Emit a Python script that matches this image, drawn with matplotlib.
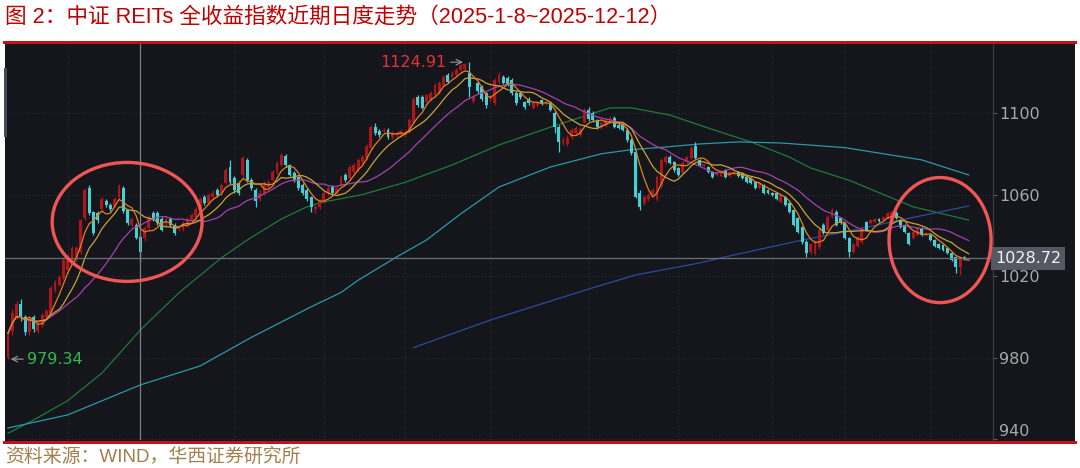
import numpy as np
import pandas as pd
import matplotlib
matplotlib.use("Agg")
import matplotlib.pyplot as plt
from matplotlib.patches import Ellipse, Rectangle

# daily candles, 2025-01-08 .. 2025-12-12
opens = [
    980.5, 993, 1000, 1006.5, 1000, 992.5, 1000, 993, 996, 1000,
    1002, 1013, 1015.5, 1019, 1023, 1027, 1028, 1032, 1048.5, 1063,
    1051.5, 1051, 1053, 1057, 1055, 1054.5, 1059, 1063, 1052.5, 1045,
    1045, 1039, 1038.7, 1043.6, 1051, 1051, 1048, 1045, 1048, 1045,
    1043, 1043, 1045, 1047.5, 1049, 1053, 1059, 1056, 1059, 1062,
    1061, 1065.7, 1073.5, 1068, 1065.7, 1069.6, 1077, 1067, 1062, 1058,
    1061, 1063.6, 1067, 1071, 1074.5, 1079, 1074.5, 1070.6, 1068.6, 1064.7,
    1062, 1059, 1052.7, 1054, 1057, 1061, 1063.7, 1061, 1064.7, 1069.6,
    1068, 1071, 1072, 1076, 1078, 1083, 1093, 1091, 1091, 1091.7,
    1088, 1089, 1089, 1089, 1090.7, 1095.6, 1108, 1108, 1105.4, 1107,
    1108.8, 1110, 1113.7, 1118.6, 1117.6, 1118.6, 1121, 1121.5, 1119.6, 1106,
    1114.7, 1112.7, 1110, 1107, 1105, 1115, 1117.6, 1117, 1116, 1110,
    1110, 1105.4, 1107, 1102.5, 1104, 1106.4, 1104.5, 1105, 1100, 1093,
    1085.3, 1085, 1088, 1090, 1089, 1095.6, 1101.5, 1100, 1096.4, 1093,
    1094, 1095.6, 1097.5, 1094, 1094, 1091.7, 1086.8, 1081, 1061, 1056,
    1058, 1060, 1058, 1064, 1076, 1078.4, 1076, 1073, 1070.6, 1076,
    1078, 1084, 1077, 1074, 1073.5, 1071, 1069.6, 1069, 1072, 1069,
    1070, 1071, 1070.6, 1068.6, 1068, 1066, 1063, 1064.7, 1062, 1061,
    1061, 1056.4, 1059, 1056, 1052.5, 1048.5, 1044, 1036.8, 1032, 1031.4,
    1034.3, 1045, 1042.6, 1049, 1051.5, 1048.5, 1046, 1038.7, 1032, 1035,
    1036.8, 1046.6, 1046, 1046.6, 1048, 1047.5, 1048.5, 1049, 1051, 1047.5,
    1045, 1041, 1038.7, 1040, 1043.6, 1040, 1040, 1037.7, 1036, 1035.3,
    1034, 1031.4, 1029.4, 1024.5, 1029.4, 1028.2]
closes = [
    992, 1002, 1006.5, 1000, 992.5, 999, 994, 997, 1001, 1003,
    1014, 1017, 1019.5, 1028, 1029.5, 1034, 1034, 1047.5, 1062, 1051,
    1041, 1047.5, 1058, 1055, 1053, 1058, 1064, 1052, 1046, 1048,
    1038.7, 1032, 1043.6, 1049, 1048.5, 1046, 1042.6, 1048, 1045, 1041,
    1044, 1046, 1048, 1050, 1053, 1058, 1056, 1060, 1061, 1060,
    1064.7, 1072, 1066, 1062, 1061, 1078, 1067, 1063, 1057, 1061,
    1065.7, 1066, 1071, 1075.5, 1079.4, 1074.5, 1069.6, 1067, 1063, 1061,
    1058, 1054, 1054, 1057, 1061, 1063, 1061, 1063, 1068.6, 1067,
    1073.5, 1074.5, 1077, 1078.4, 1084, 1093, 1090, 1089, 1091.7, 1088,
    1090, 1090, 1091, 1090.7, 1096.6, 1107, 1104, 1102.5, 1108.8, 1110,
    1113.7, 1114.7, 1117.6, 1115, 1119.6, 1121, 1123.5, 1124, 1112.7, 1108,
    1111, 1107, 1104, 1108, 1116, 1118.6, 1114.7, 1113.7, 1110, 1105,
    1108, 1103, 1105, 1105, 1105, 1105, 1105.5, 1101.5, 1093, 1085.8,
    1086.8, 1087.7, 1091.7, 1092.6, 1092, 1101.5, 1097, 1096.4, 1093, 1095,
    1096.6, 1097.5, 1093, 1092.6, 1091.7, 1086.8, 1080.4, 1059, 1054, 1059,
    1060, 1062, 1068.6, 1077, 1078.4, 1075.5, 1072, 1069.6, 1075.5, 1078.4,
    1083, 1078, 1074.5, 1074.8, 1071, 1068.6, 1071, 1071, 1068.6, 1071,
    1071, 1069, 1068, 1066, 1065.7, 1063, 1065.7, 1061, 1061, 1060,
    1058, 1060, 1055, 1051.5, 1045, 1041.7, 1036.8, 1031.4, 1036, 1036.8,
    1042.6, 1041, 1049, 1052.5, 1045, 1046, 1038.7, 1032, 1036, 1039,
    1043.6, 1042.6, 1047.5, 1048, 1047, 1049, 1051, 1051.5, 1048.5, 1044,
    1041.7, 1036, 1041.7, 1043.6, 1040, 1041, 1037.7, 1035, 1034, 1032.8,
    1031.4, 1028, 1024.5, 1029.4, 1028.4, 1028.72]
highs = [
    993, 1004, 1008, 1009, 1001, 1000, 1001, 998, 1002, 1004,
    1015, 1018, 1020.5, 1029, 1031, 1035, 1035, 1048, 1063, 1064.5,
    1052, 1052, 1059, 1058, 1056, 1059, 1065, 1064, 1053, 1049,
    1046, 1040, 1044.5, 1050, 1052, 1052, 1049, 1049, 1049, 1046,
    1045, 1047, 1049, 1051, 1054, 1059, 1060, 1061, 1062, 1063,
    1065.5, 1073, 1077, 1069, 1066.5, 1079, 1078, 1068, 1063, 1062,
    1066.5, 1067, 1072, 1076.5, 1080.5, 1080, 1075, 1071.5, 1069, 1065.5,
    1063, 1059.5, 1055, 1058, 1062, 1064, 1064.5, 1064, 1069.5, 1070.5,
    1074.5, 1075.5, 1078, 1079.5, 1085, 1094, 1095, 1092, 1092.5, 1092.5,
    1091, 1091, 1092, 1091.5, 1097.5, 1108, 1109, 1109, 1109.5, 1111,
    1114.5, 1115.5, 1118.5, 1119.5, 1120.5, 1122, 1124, 1124.5, 1124.91, 1109,
    1115.5, 1113.5, 1110.5, 1109, 1117, 1120, 1118.5, 1118, 1117, 1111,
    1111, 1106, 1108, 1106, 1106, 1107, 1106.5, 1106, 1101, 1094,
    1088, 1089, 1092.5, 1093.5, 1093, 1102.5, 1103, 1101, 1097, 1096,
    1097.5, 1098.5, 1098.5, 1095, 1095, 1092.5, 1087.5, 1082, 1062, 1060,
    1061, 1063, 1069.5, 1078, 1079.5, 1079.5, 1076.5, 1073.5, 1076.5, 1079,
    1084, 1086, 1077.5, 1075.5, 1074, 1071.5, 1071.5, 1071.5, 1072.5, 1071.5,
    1071.5, 1071.5, 1071, 1069, 1068.5, 1066.5, 1066.5, 1065, 1062.5, 1061.5,
    1061.5, 1060.5, 1059.5, 1056.5, 1053, 1049, 1044.5, 1037.5, 1036.5, 1037.5,
    1043.5, 1046, 1050, 1053.5, 1052.5, 1049, 1046.5, 1039, 1036.5, 1039.5,
    1044.5, 1047, 1048, 1048.5, 1048.5, 1049.5, 1051.5, 1052, 1052, 1048,
    1045.5, 1041.5, 1042, 1044, 1044, 1041.5, 1040.5, 1038, 1036.5, 1035.8,
    1034.5, 1032, 1030, 1030, 1030, 1029.2]
lows = [
    979.34, 991, 999, 998, 991, 991, 992.5, 992, 995, 999,
    1001, 1012, 1015, 1018, 1022, 1026, 1027, 1031, 1047.5, 1050,
    1040, 1046, 1052, 1054, 1052, 1054, 1058, 1051, 1045, 1044,
    1038, 1027, 1037, 1043, 1047, 1045, 1042, 1044, 1044, 1040,
    1042, 1042, 1044, 1047, 1048, 1052, 1055, 1055, 1058, 1059,
    1060, 1065, 1065, 1061, 1060, 1068, 1066, 1062, 1054, 1057,
    1060, 1063, 1066, 1070, 1074, 1073.5, 1069, 1066, 1062, 1060,
    1057, 1051.5, 1051, 1053, 1056, 1060, 1060, 1060, 1064, 1066,
    1067, 1070, 1071, 1075, 1077, 1082, 1089, 1088, 1090, 1087,
    1087, 1088, 1088, 1088, 1090, 1095, 1103, 1102, 1105, 1106,
    1108, 1109.5, 1113, 1114.5, 1117, 1118, 1120.5, 1121, 1108, 1105,
    1110, 1106, 1102.5, 1106, 1104, 1114, 1114, 1113, 1109, 1104,
    1107, 1102, 1104, 1102, 1103, 1104, 1104, 1101, 1090, 1081,
    1084.5, 1084, 1087, 1089, 1088, 1095, 1096, 1095.5, 1092, 1092,
    1093, 1095, 1092.5, 1092, 1091, 1086, 1079.5, 1058.5, 1052.5, 1055,
    1057, 1059, 1057, 1063, 1075, 1075, 1071, 1069, 1070, 1075.5,
    1077.5, 1077.5, 1074, 1073.5, 1070.5, 1068, 1069, 1068.5, 1068, 1068.5,
    1069.5, 1068.5, 1067.5, 1065.5, 1065, 1062.5, 1062.5, 1060.5, 1060.5, 1059.5,
    1057.5, 1056, 1054.5, 1051, 1044.5, 1041, 1036, 1029.4, 1031, 1030.5,
    1033.5, 1040.5, 1042, 1048.5, 1044.5, 1045.5, 1038, 1029.4, 1031.5, 1034.5,
    1036, 1042, 1045.5, 1046, 1046.5, 1047, 1048, 1048.5, 1048, 1043.5,
    1041, 1035.5, 1038, 1039.5, 1039.5, 1039.5, 1037.2, 1034.5, 1033.5, 1032.3,
    1030.9, 1027.5, 1021.6, 1020.6, 1027.9, 1027.8]

# long moving averages, sampled off the chart (day index, value)
ma60_idx = [0, 6, 14, 22, 31, 40, 50, 56, 64, 70, 74, 83, 93, 104, 115, 127,
            141, 146, 155, 164, 174, 183, 188, 197, 212, 225]
ma60_val = [943, 949.5, 959, 972.5, 993.6, 1011.8, 1029, 1037.7, 1048, 1054,
            1056.4, 1060, 1066, 1074.5, 1084.3, 1093, 1102.5, 1102.5, 1099,
            1092.6, 1085.8, 1078.4, 1073, 1067, 1054, 1047.5]
ma120_idx = [0, 14, 31, 45, 57, 71, 78, 82, 91, 98, 106, 115, 127, 139, 146,
             154, 162, 171, 181, 196, 214, 225]
ma120_val = [945.6, 952, 966.7, 976, 990, 1005, 1012, 1018, 1029.4, 1037.7,
             1050.5, 1063.7, 1073.5, 1080, 1082, 1083.3, 1084.8, 1085.8,
             1085.3, 1083, 1077, 1069.6]
ma250_idx = [95, 113, 136, 147, 162, 167, 186, 196, 207, 225]
ma250_val = [985, 998.5, 1013.7, 1020.6, 1026.5, 1029, 1037.7, 1041.7,
             1046.6, 1054.4]

month_idx = [14, 53, 74, 93, 113, 136, 157, 179, 196, 216]
y_ticks = [940, 980, 1020, 1060, 1100]
last_close = 1028.72
high_val, high_i = 1124.91, 108
low_val, low_i = 979.34, 0
cross_i = 30.9

W, H = 1080, 468
BG = "#14161b"

fig = plt.figure(figsize=(W / 100, H / 100), dpi=100)
fig.patch.set_facecolor("white")

# dark frame + red rules
fig.add_artist(Rectangle((5 / W, 1 - 442 / H), 1070 / W, 400 / H,
                         transform=fig.transFigure, facecolor=BG, edgecolor="none", zorder=0))
fig.add_artist(Rectangle((3 / W, 1 - 43.5 / H), 1074 / W, 2.6 / H,
                         transform=fig.transFigure, facecolor="#c8101a", edgecolor="none", zorder=5))
fig.add_artist(Rectangle((3 / W, 1 - 443.5 / H), 1074 / W, 2.2 / H,
                         transform=fig.transFigure, facecolor="#c8101a", edgecolor="none", zorder=5))
fig.add_artist(Rectangle((4 / W, 1 - 137 / H), 3 / W, 69 / H,
                         transform=fig.transFigure, facecolor="#474a52", edgecolor="none", zorder=5))

ax = fig.add_axes([5 / W, 1 - 440 / H, 988 / W, 396 / H])
ax.set_facecolor(BG)

o = np.array(opens)
c = np.array(closes)
h = np.array(highs)
l = np.array(lows)
x = np.arange(len(c))
up = c >= o
col = np.where(up, "#ad161d", "#47d0d4")

ax.vlines(x, l, h, colors=col, lw=0.9, zorder=3)
body = np.maximum(np.abs(c - o), 0.35)
ax.bar(x, body, bottom=np.minimum(o, c), width=0.68, color=col, lw=0, zorder=4)

cs = pd.Series(c)
ax.plot(x, cs.rolling(20, min_periods=1).mean(), color="#a442ae", lw=0.9, zorder=5)
ax.plot(x, cs.rolling(10, min_periods=1).mean(), color="#c9a23a", lw=0.9, zorder=5)
ax.plot(x, cs.rolling(5, min_periods=1).mean(), color="#e5801f", lw=0.9, zorder=5)
ax.plot(ma60_idx, ma60_val, color="#1f7a3c", lw=0.9, zorder=2)
ax.plot(ma120_idx, ma120_val, color="#2b98a8", lw=0.9, zorder=2)
ax.plot(ma250_idx, ma250_val, color="#2d4b9e", lw=0.9, zorder=2)

# grid
for m in month_idx:
    ax.axvline(m, color="#2d3037", lw=0.8, ls=(0, (1, 2)), zorder=1)
for t in y_ticks:
    ax.axhline(t, color="#2d3037", lw=0.8, ls=(0, (1, 2)), zorder=1)

# crosshair
ax.axvline(cross_i, color="#7b7e84", lw=0.9, zorder=6)
ax.axhline(last_close, color="#6c6f75", lw=0.9, zorder=6)

ax.set_xlim(-0.7, 230.7)
ax.set_ylim(939.7, 1133.8)
ax.set_xticks([])
ax.yaxis.tick_right()
ax.set_yticks(y_ticks)
ax.set_yticklabels([str(t) for t in y_ticks])
ax.tick_params(axis="y", colors="#5a5d64", labelcolor="#a9a9a9", labelsize=11.5,
               length=3, width=0.8, pad=1.5)
ax.get_yticklabels()[0].set_va("bottom")
for s in ["top", "bottom", "left"]:
    ax.spines[s].set_visible(False)
ax.spines["right"].set_color("#3a3d44")
ax.spines["right"].set_linewidth(0.9)

# last price tag
ax.text(1.002, last_close, "1028.72", transform=ax.get_yaxis_transform(),
        ha="left", va="center", color="#f2f2f2", fontsize=11.5, zorder=8,
        bbox=dict(boxstyle="square,pad=0.25", facecolor="#545862", edgecolor="none"))

# high / low markers
ax.annotate("", xy=(high_i - 0.8, high_val), xytext=(high_i - 5, high_val),
            arrowprops=dict(arrowstyle="->", color="#9a9a9a", lw=0.8), zorder=8)
ax.text(high_i - 5.4, high_val, "1124.91", ha="right", va="center",
        color="#e3323b", fontsize=11.5, zorder=8)
ax.annotate("", xy=(low_i, low_val), xytext=(low_i + 4.2, low_val),
            arrowprops=dict(arrowstyle="->", color="#9a9a9a", lw=0.8), zorder=8)
ax.text(low_i + 4.4, low_val, "979.34", ha="left", va="center",
        color="#2dbb4c", fontsize=11.5, zorder=8)

# highlight rings
ax.add_patch(Ellipse((27.9, 1046.6), 35.1, 58.3, fill=False, ec="#f05656", lw=2.4, zorder=9))
ax.add_patch(Ellipse((218.3, 1037.7), 23.9, 61.3, fill=False, ec="#f05656", lw=2.4, zorder=9,
                     clip_on=False))

cjk = ["Liberation Sans", "Noto Sans CJK SC"]
fig.text(5 / W, 1 - 17 / H, "图 2：中证 REITs 全收益指数近期日度走势（2025-1-8~2025-12-12）",
         ha="left", va="center", color="#c00000", fontsize=15.6, family=cjk)
fig.text(5 / W, 1 - 457 / H, "资料来源：WIND，华西证券研究所",
         ha="left", va="center", color="#a27f4c", fontsize=13.6, family=cjk)

fig.savefig("out.png", dpi=100, facecolor="white")
